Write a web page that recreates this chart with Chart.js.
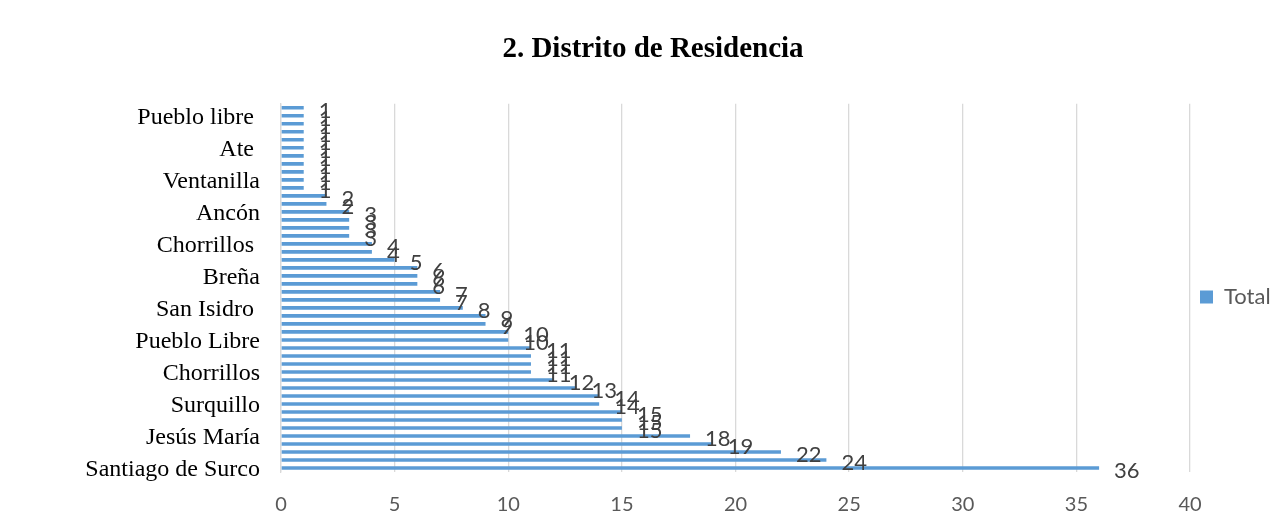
<!DOCTYPE html>
<html>
<head>
<meta charset="utf-8">
<script src="https://cdn.jsdelivr.net/npm/chart.js@4"></script>
<style>
    body { margin: 0; background: #ffffff; }
    canvas { display: block; }
</style>
</head>
<body>
<canvas id="chart" width="1274" height="523"></canvas>
<script>
// distritos de arriba hacia abajo, solo se rotula uno de cada cuatro
const districts = [
    '', 'Pueblo libre ', '', '', '', 'Ate ', '', '', '', 'Ventanilla', '', '',
    '', 'Ancón', '', '', '', 'Chorrillos ', '', '', '', 'Breña', '', '',
    '', 'San Isidro ', '', '', '', 'Pueblo Libre', '', '', '', 'Chorrillos', '', '',
    '', 'Surquillo', '', '', '', 'Jesús María', '', '', '', 'Santiago de Surco'
];
const totals = [
    1, 1, 1, 1, 1, 1, 1, 1, 1, 1, 1, 2,
    2, 3, 3, 3, 3, 4, 4, 5, 6, 6, 6, 7,
    7, 8, 9, 9, 10, 10, 11, 11, 11, 11, 12, 13,
    14, 14, 15, 15, 15, 18, 19, 22, 24, 36
];
const xTicks = [0, 5, 10, 15, 20, 25, 30, 35, 40];

const barColor = '#5b9bd5';
const sansFont = 'Lato, "Liberation Sans", sans-serif';
const serifFont = '"Liberation Serif", "Times New Roman", serif';

// escribe el valor al final de cada barra
const valueLabels = {
    id: 'valueLabels',
    afterDatasetsDraw(chart) {
        let ctx = chart.ctx;
        let meta = chart.getDatasetMeta(0);
        ctx.save();
        ctx.font = '22px ' + sansFont;
        ctx.fillStyle = '#404040';
        ctx.textAlign = 'left';
        ctx.textBaseline = 'middle';
        meta.data.forEach((bar, i) => {
            ctx.fillText(String(totals[i]), bar.x + 15, bar.y + 3);
        });
        ctx.restore();
    }
};

function createChartConfig() {
    return {
        type: 'bar',
        data: {
            labels: districts,
            datasets: [{
                label: 'Total',
                data: totals,
                backgroundColor: barColor,
                borderWidth: 0,
                categoryPercentage: 1,
                barPercentage: 0.45
            }]
        },
        options: {
            indexAxis: 'y',
            responsive: false,
            animation: false,
            devicePixelRatio: 1,
            layout: { padding: { left: 32, right: 0, top: 0, bottom: 0 } },
            scales: {
                x: {
                    min: 0,
                    max: 40,
                    afterBuildTicks: (axis) => {
                        axis.ticks = xTicks.map((v) => ({ value: v }));
                    },
                    afterFit: (axis) => { axis.height = 51; },
                    grid: { color: '#d9d9d9', lineWidth: 1.3, drawTicks: false },
                    border: { display: false },
                    ticks: {
                        padding: 21,
                        color: '#595959',
                        font: { family: sansFont, size: 20 }
                    }
                },
                y: {
                    afterFit: (axis) => { axis.width = 249; },
                    grid: { display: false, drawTicks: false },
                    border: { color: '#d9d9d9', width: 1.3 },
                    ticks: {
                        autoSkip: false,
                        padding: 21,
                        labelOffset: 2,
                        color: '#000000',
                        font: { family: serifFont, size: 24 }
                    }
                }
            },
            plugins: {
                title: {
                    display: true,
                    text: '2. Distrito de Residencia',
                    color: '#000000',
                    font: { family: serifFont, size: 29, weight: 'bold' },
                    padding: { top: 32, bottom: 37 }
                },
                legend: {
                    position: 'right',
                    fullSize: false,
                    maxWidth: 84,
                    // título vacío: baja un poco la leyenda
                    title: { display: true, text: '', padding: 3, font: { size: 10 } },
                    labels: {
                        boxWidth: 13,
                        boxHeight: 13,
                        padding: 10,
                        color: '#595959',
                        font: { family: sansFont, size: 22 }
                    }
                },
                tooltip: { enabled: false }
            }
        },
        plugins: [valueLabels]
    };
}

function drawDistrictChart(ctx) {
    const districtChart = new Chart(ctx, createChartConfig());
}

drawDistrictChart(document.getElementById('chart'));
</script>
</body>
</html>
